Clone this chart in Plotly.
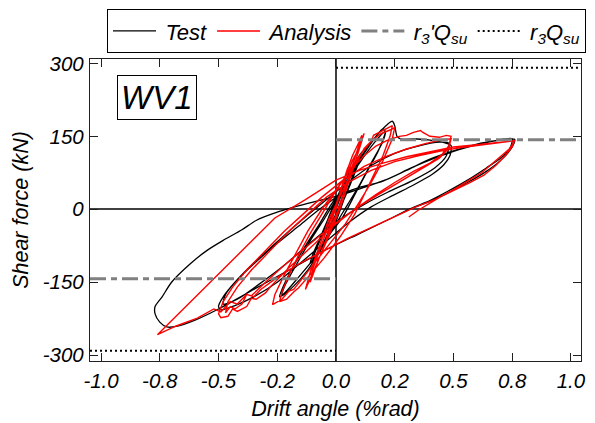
import plotly.graph_objects as go

# ---------------- data ----------------
x_tick_vals = [-1.0, -0.75, -0.5, -0.25, 0.0, 0.25, 0.5, 0.75, 1.0]
x_tick_text = ["-1.0", "-0.8", "-0.5", "-0.2", "0.0", "0.2", "0.5", "0.8", "1.0"]
y_tick_vals = [-300, -150, 0, 150, 300]
y_tick_text = ["-300", "-150", "0", "150", "300"]

x_range = [-1.047, 1.043]
y_range = [-312, 309]

r3p_Qsu = 143.0   # r3'Qsu (kN)
r3_Qsu = 291.0    # r3Qsu (kN)

# Test: (drift %rad, shear kN)
test_pts = [
    (0, 0), (0.02, 25), (0.04, 45), (0.05, 55), (0.04, 40), (0.02, 15), (0.0, -10), (-0.03, -35), (-0.05, -50),
    (-0.04, -38), (-0.02, -15), (0.0, 8),
    (0.03, 40), (0.06, 70), (0.09, 95), (0.10, 108), (0.09, 92), (0.06, 55), (0.03, 15), (0.0, -25), (-0.04, -60),
    (-0.08, -90), (-0.10, -105), (-0.09, -90), (-0.06, -55), (-0.03, -15), (0.0, 20),
    (0.04, 60), (0.08, 95), (0.11, 118), (0.10, 100), (0.06, 50), (0.02, 5), (-0.03, -45), (-0.07, -85),
    (-0.11, -112), (-0.10, -95), (-0.06, -50), (-0.02, -5),
    (0.03, 40), (0.08, 85), (0.13, 125), (0.17, 150), (0.20, 166), (0.21, 160), (0.18, 120), (0.13, 75), (0.08, 30),
    (0.03, -15), (-0.04, -60), (-0.10, -105), (-0.16, -140), (-0.21, -168), (-0.24, -180), (-0.23, -165),
    (-0.19, -125), (-0.13, -75), (-0.07, -30), (-0.02, 10),
    (0.04, 50), (0.10, 95), (0.16, 135), (0.21, 160), (0.20, 140), (0.15, 95), (0.10, 50), (0.05, 10), (0.0, -30),
    (-0.06, -80), (-0.12, -125), (-0.18, -158), (-0.23, -178), (-0.22, -160), (-0.17, -115), (-0.11, -65),
    (-0.05, -20),
    (0.0, 20), (0.06, 70), (0.12, 115), (0.18, 155), (0.22, 175), (0.24, 181), (0.25, 172), (0.26, 150),
    (0.28, 144), (0.33, 145), (0.40, 142), (0.46, 137), (0.49, 131), (0.485, 110), (0.46, 92), (0.41, 72),
    (0.33, 50), (0.24, 28), (0.15, 5), (0.06, -25), (-0.04, -65), (-0.15, -110), (-0.25, -150), (-0.35, -180),
    (-0.43, -198), (-0.49, -207), (-0.50, -200), (-0.48, -180), (-0.43, -150), (-0.36, -115), (-0.28, -80),
    (-0.20, -45), (-0.12, -12),
    (-0.04, 20), (0.05, 55), (0.15, 90), (0.25, 115), (0.35, 130), (0.44, 138), (0.48, 136), (0.47, 110),
    (0.42, 85), (0.33, 60), (0.22, 35), (0.12, 10), (0.02, -20), (-0.10, -65), (-0.22, -115), (-0.33, -155),
    (-0.42, -185), (-0.48, -195), (-0.47, -175), (-0.42, -145), (-0.34, -108), (-0.25, -70), (-0.16, -35),
    (-0.07, 0),
    (0.02, 30), (0.10, 45), (0.20, 58), (0.30, 80), (0.40, 103), (0.50, 120), (0.60, 134), (0.68, 141),
    (0.75, 145), (0.74, 125), (0.70, 105), (0.64, 85), (0.56, 60), (0.48, 38), (0.40, 18), (0.32, 2),
    (0.22, -22), (0.10, -50), (-0.05, -85), (-0.20, -125), (-0.35, -165), (-0.50, -205), (-0.60, -228),
    (-0.68, -241), (-0.72, -242), (-0.75, -232), (-0.77, -215), (-0.77, -200), (-0.74, -180), (-0.70, -150),
    (-0.62, -112), (-0.55, -85), (-0.48, -64), (-0.40, -42), (-0.34, -23), (-0.25, -6), (-0.12, 12), (0.02, 29),
    (0.12, 45), (0.22, 62), (0.32, 85), (0.42, 105), (0.52, 122), (0.62, 135), (0.70, 142), (0.76, 144),
    (0.75, 128), (0.70, 100), (0.64, 78), (0.56, 55), (0.47, 32), (0.39, 14), (0.31, 0),
]

# Analysis: (drift %rad, shear kN)
ana_pts = [
    (0, 0), (0.02, 40), (0.04, 70), (0.05, 85), (0.03, 50), (0.0, 5), (-0.03, -45), (-0.05, -75), (-0.03, -40),
    (0.0, 5),
    (0.04, 70), (0.07, 110), (0.10, 140), (0.11, 152), (0.09, 120), (0.05, 60), (0.01, 0), (-0.04, -60),
    (-0.08, -110), (-0.11, -150), (-0.10, -125), (-0.06, -70), (-0.02, -15),
    (0.03, 50), (0.07, 100), (0.09, 118), (0.11, 145), (0.12, 156), (0.10, 125), (0.06, 65), (0.02, 5),
    (-0.03, -55), (-0.08, -110), (-0.12, -155), (-0.13, -165), (-0.11, -130), (-0.07, -75), (-0.03, -20),
    (0.02, 30), (0.07, 80), (0.12, 125), (0.15, 140), (0.16, 152), (0.19, 160), (0.22, 168), (0.24, 172),
    (0.23, 150), (0.20, 110), (0.16, 70), (0.12, 30), (0.08, -10), (0.02, -55), (-0.05, -100), (-0.12, -140),
    (-0.16, -162), (-0.18, -170), (-0.21, -185), (-0.24, -190), (-0.23, -170), (-0.20, -135), (-0.16, -95),
    (-0.11, -50), (-0.06, -10),
    (-0.01, 30), (0.05, 75), (0.10, 110), (0.15, 140), (0.19, 155), (0.23, 163), (0.25, 168), (0.24, 145),
    (0.20, 100), (0.15, 55), (0.10, 15), (0.04, -30), (-0.04, -80), (-0.12, -130), (-0.18, -165), (-0.20, -168),
    (-0.23, -185), (-0.27, -196), (-0.26, -175), (-0.22, -135), (-0.17, -90), (-0.12, -45),
    (-0.06, 0), (0.00, 40), (0.06, 80), (0.12, 110), (0.17, 130), (0.22, 142), (0.27, 150), (0.30, 152),
    (0.33, 158), (0.36, 162), (0.37, 158), (0.40, 150), (0.44, 148), (0.47, 152), (0.49, 150), (0.48, 130),
    (0.45, 112), (0.40, 95), (0.33, 78), (0.25, 55), (0.17, 30), (0.08, 0), (0.00, -30), (-0.10, -75),
    (-0.20, -120), (-0.28, -160), (-0.30, -172), (-0.34, -185), (-0.36, -183), (-0.38, -200), (-0.42, -210),
    (-0.44, -205), (-0.46, -220), (-0.49, -223), (-0.50, -215), (-0.48, -190), (-0.44, -160), (-0.38, -125),
    (-0.30, -85), (-0.22, -45), (-0.14, -10),
    (-0.06, 25), (0.03, 60), (0.12, 88), (0.22, 110), (0.30, 124), (0.38, 135), (0.45, 143), (0.49, 145),
    (0.48, 125), (0.44, 105), (0.37, 85), (0.28, 60), (0.18, 30), (0.08, 0), (-0.02, -35), (-0.12, -75),
    (-0.22, -115), (-0.30, -150), (-0.33, -165), (-0.36, -178), (-0.38, -175), (-0.40, -195), (-0.43, -205),
    (-0.45, -200), (-0.47, -213), (-0.46, -190), (-0.42, -160), (-0.36, -125), (-0.28, -85), (-0.20, -45),
    (-0.12, -10),
    (-0.04, 25), (0.05, 55), (0.15, 80), (0.25, 98), (0.35, 110), (0.45, 120), (0.52, 126), (0.60, 131),
    (0.68, 136), (0.76, 141), (0.75, 128), (0.72, 110), (0.68, 90), (0.63, 70), (0.57, 55), (0.50, 38),
    (0.42, 20), (0.34, 5), (0.25, -15), (0.15, -38), (0.05, -60), (-0.05, -85), (-0.15, -110), (-0.25, -140),
    (-0.32, -165), (-0.35, -180), (-0.38, -175), (-0.42, -195), (-0.45, -190), (-0.49, -211), (-0.52, -205),
    (-0.59, -224), (-0.68, -240), (-0.76, -258), (-0.66, -210), (-0.56, -162), (-0.46, -114), (-0.36, -66),
    (-0.26, -18), (-0.13, 20), (0.00, 60),
    (0.10, 80), (0.20, 95), (0.30, 108), (0.40, 118), (0.50, 128), (0.60, 133), (0.70, 138), (0.76, 141),
    (0.74, 125), (0.70, 108), (0.66, 90), (0.62, 75), (0.56, 58), (0.51, 43), (0.45, 27), (0.40, 12),
    (0.35, -2), (0.31, -16),
]

test_drift = [p[0] for p in test_pts]
test_shear = [p[1] for p in test_pts]
ana_drift = [p[0] for p in ana_pts]
ana_shear = [p[1] for p in ana_pts]

FONT = "Liberation Sans, Arial, sans-serif"
TS = "\u2009"  # thin space between legend symbol and label

fig = go.Figure()
fig.add_trace(go.Scatter(x=test_drift, y=test_shear, mode="lines", name=TS + "Test",
                         line=dict(color="black", width=1.3, shape="spline", smoothing=0.7)))
fig.add_trace(go.Scatter(x=ana_drift, y=ana_shear, mode="lines", name=TS + "Analysis",
                         line=dict(color="#ff0000", width=1.4)))
fig.add_trace(go.Scatter(x=[0, x_range[1], None, x_range[0], 0],
                         y=[r3p_Qsu, r3p_Qsu, None, -r3p_Qsu, -r3p_Qsu],
                         mode="lines", name=TS + "r<sub>3</sub>'Q<sub>su</sub>",
                         line=dict(color="#808080", width=3, dash="16px,5px,6px,5px")))
fig.add_trace(go.Scatter(x=[0, x_range[1], None, x_range[0], 0],
                         y=[r3_Qsu, r3_Qsu, None, -r3_Qsu, -r3_Qsu],
                         mode="lines", name=TS + "r<sub>3</sub>Q<sub>su</sub>",
                         line=dict(color="black", width=2, dash="2px,3px")))

axis_common = dict(showline=True, linecolor="#202020", linewidth=1.3, mirror="allticks",
                   ticks="inside", ticklen=8, tickwidth=1.2, tickcolor="#202020",
                   showgrid=False, zeroline=True, zerolinecolor="#404040", zerolinewidth=1.6,
                   automargin=False,
                   tickfont=dict(family=FONT, size=20.5, style="italic", color="black"))

fig.update_xaxes(range=x_range, tickvals=x_tick_vals, ticktext=x_tick_text,
                 title=dict(text="Drift angle (%rad)", standoff=10,
                            font=dict(family=FONT, size=21.5, style="italic", color="black")),
                 ticklabelstandoff=1, **axis_common)
fig.update_yaxes(range=y_range, tickvals=y_tick_vals, ticktext=y_tick_text,
                 title=dict(text="Shear force (kN)", standoff=8,
                            font=dict(family=FONT, size=21.5, style="italic", color="black")),
                 ticklabelstandoff=1, **axis_common)

fig.add_annotation(text="WV1", xref="paper", yref="paper", x=0.055, y=0.947,
                   xanchor="left", yanchor="top", showarrow=False,
                   font=dict(family=FONT, size=33, style="italic", color="black"),
                   bordercolor="black", borderwidth=1, borderpad=3, bgcolor="white")

# the page adds an 8 px body margin, so the figure is sized/offset to compensate
fig.update_layout(
    width=587, height=415,
    margin=dict(l=82, r=14, t=51, b=62, autoexpand=False),
    plot_bgcolor="white", paper_bgcolor="white",
    legend=dict(orientation="h", x=0.0346, xanchor="left", y=1.165, yanchor="top",
                bordercolor="black", borderwidth=1, bgcolor="white", itemwidth=43,
                font=dict(family=FONT, size=22, style="italic", color="black")),
)

fig.write_html("out.html")
